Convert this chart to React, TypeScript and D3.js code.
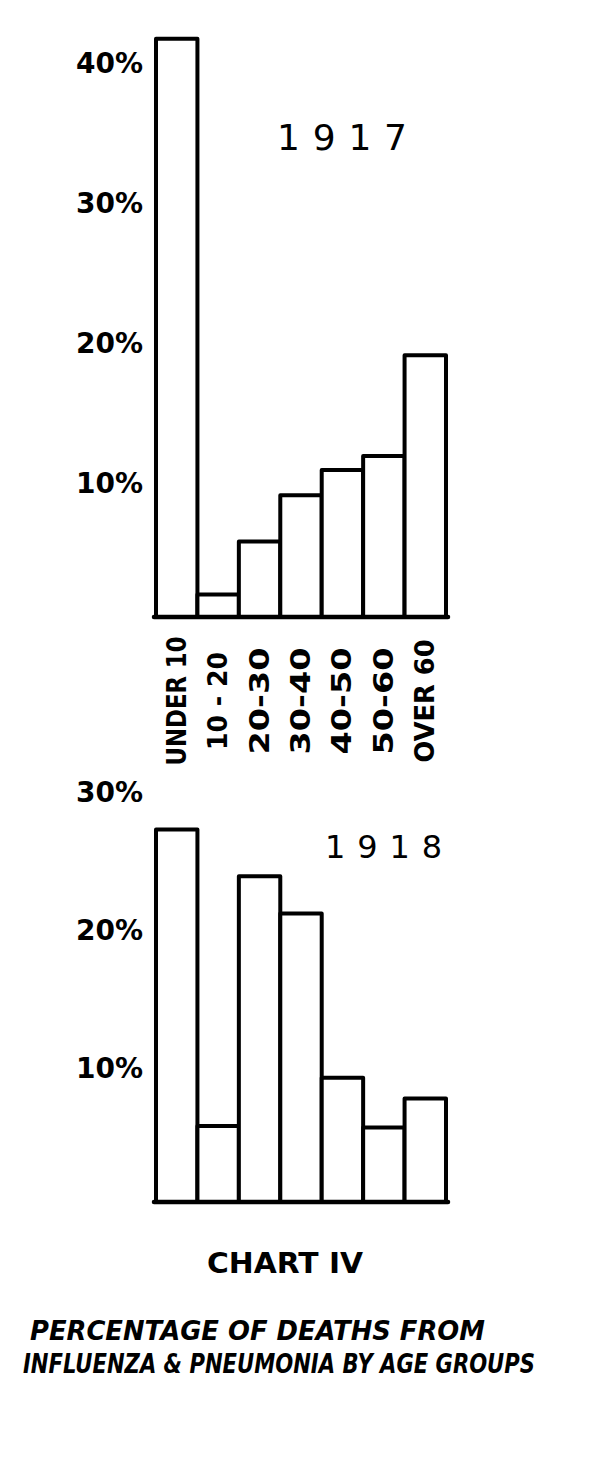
import React from "react";
import * as d3 from "d3";

const categories = ["UNDER 10", "10 - 20", "20-30", "30-40", "40-50", "50-60", "OVER 60"];
const values1917 = [41.3, 1.6, 5.4, 8.7, 10.5, 11.5, 18.7];
const values1918 = [27.0, 5.5, 23.6, 20.9, 9.0, 5.4, 7.5];
const ticks1917 = [10, 20, 30, 40];
const ticks1918 = [10, 20, 30];
const catLengths = [129, 98, 107, 107, 107, 107, 123];

const FONT = "'DejaVu Sans', sans-serif";

function Panel({ values, ticks, y0, y10, year, yearX, yearY, yearLen, yearSize, labelDy, showCats }) {
  const x = d3.scaleBand<string>().domain(categories).range([156, 446]).padding(0);
  const y = d3.scaleLinear().domain([0, 10]).range([y0, y0 - y10]);
  return (
    <g>
      {values.map((v, i) => (
        <rect
          key={i}
          x={x(categories[i])}
          y={y(v)}
          width={x.bandwidth()}
          height={y(0) - y(v)}
          fill="#fff"
          stroke="#000"
          strokeWidth={4}
          strokeLinejoin="round"
        />
      ))}
      <line x1={154} x2={448} y1={y(0)} y2={y(0)} stroke="#000" strokeWidth={4.5} strokeLinecap="round" />
      {ticks.map((t) => (
        <text
          key={t}
          x={143}
          y={y(t) + labelDy}
          textAnchor="end"
          fontFamily={FONT}
          fontSize={28}
          fontWeight="bold"
          fill="#000"
          dominantBaseline="middle"
        >
          {t + "%"}
        </text>
      ))}
      <text
        x={yearX}
        y={yearY}
        fontFamily={FONT}
        fontSize={yearSize}
        textLength={yearLen}
        lengthAdjust="spacing"
        fill="#000"
      >
        {year}
      </text>
      {showCats &&
        categories.map((c, i) => {
          const cx = (x(c) as number) + x.bandwidth() / 2 + 9;
          return (
            <text
              key={c}
              transform={`translate(${cx},701) rotate(-90)`}
              textAnchor="middle"
              fontFamily={FONT}
              fontSize={26}
              fontWeight="bold"
              textLength={catLengths[i]}
              lengthAdjust="spacingAndGlyphs"
              fill="#000"
            >
              {c}
            </text>
          );
        })}
    </g>
  );
}

export default function App() {
  const sx = 0.76;
  return (
    <svg
      width={613}
      height={1460}
      style={{ position: "absolute", left: 0, top: 0, background: "#fff" }}
    >
      <rect x={0} y={0} width={613} height={1460} fill="#fff" />
      <Panel
        values={values1917}
        ticks={ticks1917}
        y0={617}
        y10={140}
        year="1917"
        yearX={277}
        yearY={150}
        yearLen={130}
        yearSize={36}
        labelDy={8}
        showCats={true}
      />
      <Panel
        values={values1918}
        ticks={ticks1918}
        y0={1202}
        y10={138}
        year="1918"
        yearX={325}
        yearY={858}
        yearLen={117}
        yearSize={32}
        labelDy={6}
        showCats={false}
      />
      <text
        x={285}
        y={1273}
        textAnchor="middle"
        fontFamily={FONT}
        fontSize={28}
        fontWeight="bold"
        textLength={156}
        lengthAdjust="spacingAndGlyphs"
        fill="#000"
      >
        CHART IV
      </text>
      <text
        transform={`translate(30,1340) scale(${sx},1)`}
        fontFamily={FONT}
        fontSize={27}
        fontStyle="italic"
        fontWeight="bold"
        textLength={455 / sx}
        lengthAdjust="spacingAndGlyphs"
        fill="#000"
      >
        PERCENTAGE OF DEATHS  FROM
      </text>
      <text
        transform={`translate(23,1373) scale(${sx},1)`}
        fontFamily={FONT}
        fontSize={27}
        fontStyle="italic"
        fontWeight="bold"
        textLength={512 / sx}
        lengthAdjust="spacingAndGlyphs"
        fill="#000"
      >
        INFLUENZA &amp; PNEUMONIA BY AGE GROUPS
      </text>
    </svg>
  );
}
